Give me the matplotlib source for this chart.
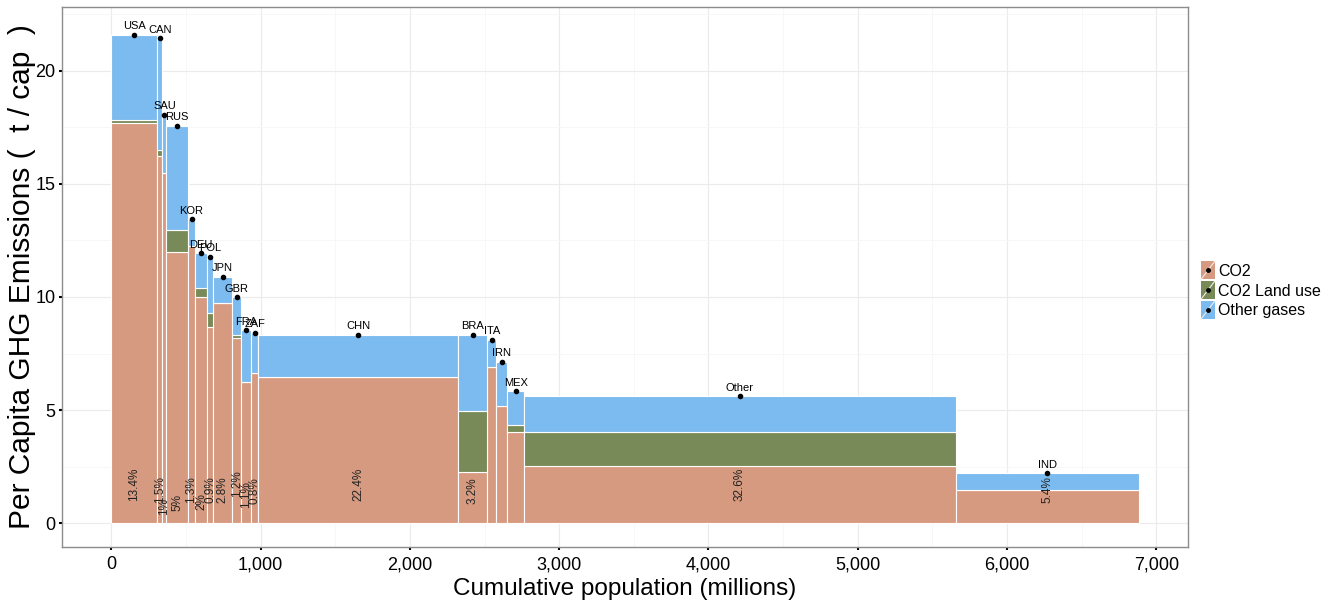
import numpy as np
import matplotlib
matplotlib.use("Agg")
import matplotlib.pyplot as plt
from matplotlib.patches import Patch, Rectangle
from matplotlib.lines import Line2D
from matplotlib.legend_handler import HandlerBase
from matplotlib.ticker import FuncFormatter, MultipleLocator

plt.rcParams['font.family'] = ['Liberation Sans', 'DejaVu Sans']

# 国家/地区与人口（百万）
countries = ['USA', 'CAN', 'SAU', 'RUS', 'KOR', 'DEU', 'POL', 'JPN', 'GBR',
             'FRA', 'ZAF', 'CHN', 'BRA', 'ITA', 'IRN', 'MEX', 'Other', 'IND']
population = [309, 34, 27, 143, 49, 82, 38, 127, 62,
              65, 50, 1338, 195, 60, 74, 113, 2890, 1225]

# 人均排放 (t/cap)
co2 = [17.70, 16.25, 15.50, 12.00, 12.25, 9.99, 8.69, 9.75, 8.20,
       6.25, 6.62, 6.46, 2.25, 6.89, 5.18, 4.03, 2.52, 1.44]
co2_land = [0.15, 0.25, 0.00, 0.96, 0.00, 0.39, 0.59, 0.00, 0.12,
            0.00, 0.00, 0.00, 2.70, 0.00, 0.00, 0.31, 1.51, 0.00]
other_gases = [3.75, 4.95, 2.57, 4.61, 1.18, 1.55, 2.51, 1.15, 1.67,
               2.29, 1.80, 1.86, 3.37, 1.21, 1.96, 1.50, 1.59, 0.77]

# 占全球排放比例
share = ['13.4%', '1.5%', '1%', '5%', '1.3%', '2%', '0.9%', '2.8%', '1.2%',
         '1.1%', '0.8%', '22.4%', '3.2%', '', '', '', '32.6%', '5.4%']
share_y = [1.73, 1.50, 0.71, 0.93, 1.46, 0.93, 1.46, 1.46, 1.73,
           1.24, 1.42, 1.73, 1.42, 0, 0, 0, 1.70, 1.46]

colors = {'CO2': '#D69A80', 'CO2 Land use': '#788A58', 'Other gases': '#7CBBEF'}


class KeyHandler(HandlerBase):
    # 色块 + 斜线 + 黑点
    def create_artists(self, legend, orig_handle, xdescent, ydescent,
                       width, height, fontsize, trans):
        x0, y0 = -xdescent, -ydescent
        rect = Rectangle((x0, y0), width, height, transform=trans,
                         facecolor=orig_handle.get_facecolor(), edgecolor='none')
        diag = Line2D([x0, x0 + width], [y0, y0 + height], color='#F4EEE8',
                      lw=0.8, transform=trans)
        dot = Line2D([x0 + width / 2], [y0 + height / 2], marker='o', ms=2.5,
                     color='black', linestyle='none', transform=trans)
        return [rect, diag, dot]


pop = np.array(population, dtype=float)
left = np.concatenate([[0], np.cumsum(pop)[:-1]])
mid = left + pop / 2
c1 = np.array(co2)
c2 = np.array(co2_land)
c3 = np.array(other_gases)
total = c1 + c2 + c3

fig = plt.figure(figsize=(13.33, 6.15), dpi=100)
ax = fig.add_axes([0.0465, 0.1106, 0.8445, 0.878])

# 堆叠的可变宽度柱
ax.bar(left, c1, width=pop, align='edge', color=colors['CO2'],
       edgecolor='white', linewidth=0.8, zorder=2)
ax.bar(left, c2, width=pop, bottom=c1, align='edge', color=colors['CO2 Land use'],
       edgecolor='white', linewidth=0.8, zorder=2)
ax.bar(left, c3, width=pop, bottom=c1 + c2, align='edge', color=colors['Other gases'],
       edgecolor='white', linewidth=0.8, zorder=2)

# 顶部国家标签
ax.scatter(mid, total, s=9, color='black', zorder=4)
for x, y, name in zip(mid, total, countries):
    ax.annotate(name, (x, y), xytext=(0, 2.5), textcoords='offset points',
                ha='center', va='bottom', fontsize=8, zorder=5)

# 排放份额
for x, y, s in zip(mid, share_y, share):
    if s:
        ax.text(x, y, s, rotation=90, ha='center', va='center',
                fontsize=8.5, color='#222222', zorder=5)

ax.set_xlim(-330, 7210)
ax.set_ylim(-1.06, 22.83)
ax.xaxis.set_major_locator(MultipleLocator(1000))
ax.xaxis.set_minor_locator(MultipleLocator(500))
ax.yaxis.set_major_locator(MultipleLocator(5))
ax.yaxis.set_minor_locator(MultipleLocator(2.5))
ax.xaxis.set_major_formatter(FuncFormatter(lambda v, p: f'{int(v):,}'))
ax.grid(which='major', color='#EBEBEB', linewidth=0.8, zorder=0)
ax.grid(which='minor', color='#F6F6F6', linewidth=0.6, zorder=0)
ax.set_axisbelow(True)
ax.tick_params(which='major', length=2.5, width=1.5, color='black',
               labelsize=13, labelcolor='black', pad=2)
ax.tick_params(axis='x', pad=4)
ax.tick_params(which='minor', length=0)
for sp in ax.spines.values():
    sp.set_color('#8C8C8C')
    sp.set_linewidth(1.0)

ax.set_xlabel('Cumulative population (millions)', fontsize=17.5)
ax.set_ylabel('Per Capita GHG Emissions (  t / cap  )', fontsize=21.5)
ax.xaxis.set_label_coords(0.5, -0.058)
ax.yaxis.set_label_coords(-0.023, 0.5)

# 图例
handles = [Patch(facecolor=col) for col in colors.values()]
fig.legend(handles, list(colors.keys()), handler_map={Patch: KeyHandler()},
           loc='center left', bbox_to_anchor=(0.901, 0.528), frameon=False,
           fontsize=11.5, handlelength=0.85, handleheight=1.35, handletextpad=0.2,
           labelspacing=0.12, borderpad=0, borderaxespad=0)

fig.savefig('out.png', dpi=100)
